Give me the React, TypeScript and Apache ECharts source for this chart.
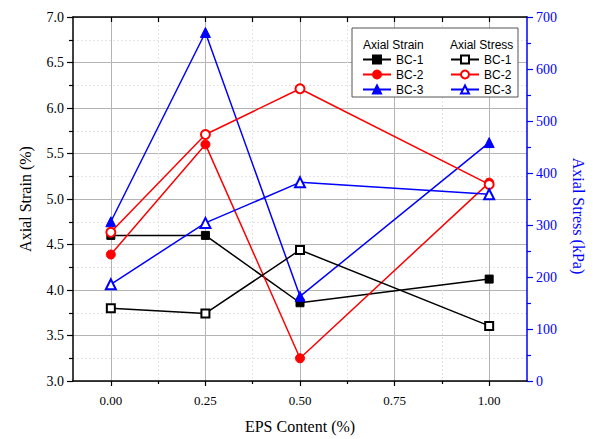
import React, { useEffect, useRef } from "react";
import * as echarts from "echarts";

// EPS content (%) of each mix
const epsContent = [0, 0.25, 0.5, 1.0];

// Axial strain (%) at failure
const strainBC1 = [4.6, 4.6, 3.86, 4.12];
const strainBC2 = [4.39, 5.6, 3.25, 5.18];
const strainBC3 = [4.75, 6.83, 3.93, 5.62];

// Axial stress (kPa) at failure
const stressBC1 = [140, 130, 252, 106];
const stressBC2 = [286, 474, 562, 378];
const stressBC3 = [186, 304, 382, 359];

const xMajorTicks = [0, 0.25, 0.5, 0.75, 1.0];
const xMinorTicks = [0.125, 0.375, 0.625, 0.875];
const xAllTicks = [0, 0.125, 0.25, 0.375, 0.5, 0.625, 0.75, 0.875, 1.0];

const SERIF = "Liberation Serif";
const SANS = "Liberation Sans";

const pairs = (ys: number[]) => epsContent.map((x, i) => [x, ys[i]]);

export default function App() {
  const ref = useRef<HTMLDivElement>(null);

  useEffect(() => {
    if (!ref.current) return;
    const chart = echarts.init(ref.current, null, { renderer: "svg" });

    const line = (
      name: string,
      data: number[],
      color: string,
      symbol: string,
      size: number,
      yAxisIndex: number
    ) => ({
      name,
      type: "line",
      xAxisIndex: 0,
      yAxisIndex,
      data: pairs(data),
      symbol,
      symbolSize: size,
      showAllSymbol: true,
      lineStyle: { color, width: 1.5 },
      itemStyle: { color, borderColor: color, borderWidth: 1 },
      emphasis: { disabled: true },
      z: yAxisIndex === 0 ? 2 : 3,
    });

    const legendBase = {
      orient: "vertical",
      top: 52,
      padding: 0,
      itemWidth: 28,
      itemHeight: 10,
      itemGap: 0,
      selectedMode: false,
      textStyle: { fontFamily: SANS, fontSize: 12, color: "#000", lineHeight: 15 },
      formatter: (n: string) => n.split(" ")[0],
      z: 6,
    };

    chart.setOption({
      animation: false,
      backgroundColor: "#fff",
      grid: { left: 73, right: 68, top: 17, bottom: 57 },
      legend: [
        { ...legendBase, left: 362, data: ["BC-1 Strain", "BC-2 Strain", "BC-3 Strain"] },
        { ...legendBase, left: 450, data: ["BC-1 Stress", "BC-2 Stress", "BC-3 Stress"] },
      ],
      graphic: [
        {
          type: "rect",
          shape: { x: 352, y: 28, width: 166, height: 69 },
          style: { fill: "#fff", stroke: "#555", lineWidth: 1 },
          z: 5,
        },
        {
          type: "text",
          x: 363,
          y: 45,
          style: { text: "Axial Strain", font: `12px "${SANS}"`, fill: "#000", verticalAlign: "middle" },
          z: 6,
        },
        {
          type: "text",
          x: 450,
          y: 45,
          style: { text: "Axial Stress", font: `12px "${SANS}"`, fill: "#000", verticalAlign: "middle" },
          z: 6,
        },
      ],
      xAxis: [
        {
          type: "value",
          position: "bottom",
          min: -0.1,
          max: 1.1,
          name: "EPS Content (%)",
          nameLocation: "middle",
          nameGap: 37,
          nameTextStyle: { fontFamily: SERIF, fontSize: 16, color: "#000" },
          axisLine: { onZero: false, lineStyle: { color: "#000", width: 1.5 } },
          axisTick: { customValues: xMajorTicks, length: 5, lineStyle: { color: "#000", width: 1.2 } },
          axisLabel: {
            customValues: xMajorTicks,
            fontFamily: SERIF,
            fontSize: 13,
            color: "#000",
            margin: 13,
            formatter: (v: number) => v.toFixed(2),
          },
          splitLine: { show: true, lineStyle: { color: "#b4b4b4", width: 1 } },
        },
        {
          type: "value",
          position: "bottom",
          min: -0.1,
          max: 1.1,
          axisLine: { show: false, onZero: false },
          axisTick: { customValues: xMinorTicks, length: 3, lineStyle: { color: "#000", width: 1.2 } },
          axisLabel: { show: false },
          splitLine: { show: true, lineStyle: { color: "#e4e4e4", width: 1, type: [2, 2] } },
        },
        {
          type: "value",
          position: "top",
          min: -0.1,
          max: 1.1,
          axisLine: { onZero: false, lineStyle: { color: "#000", width: 1.5 } },
          axisTick: { inside: true, customValues: xAllTicks, length: 5, lineStyle: { color: "#000", width: 1.2 } },
          axisLabel: { show: false },
          splitLine: { show: false },
        },
      ],
      yAxis: [
        {
          type: "value",
          position: "left",
          min: 3,
          max: 7,
          interval: 0.5,
          name: "Axial Strain (%)",
          nameLocation: "middle",
          nameGap: 40,
          nameTextStyle: { fontFamily: SERIF, fontSize: 16, color: "#000" },
          axisLine: { show: true, onZero: false, lineStyle: { color: "#000", width: 1.5 } },
          axisTick: { show: true, length: 6, lineStyle: { color: "#000", width: 1.2 } },
          minorTick: { show: true, splitNumber: 2, length: 4, lineStyle: { color: "#000", width: 1.2 } },
          axisLabel: {
            fontFamily: SERIF,
            fontSize: 14,
            color: "#000",
            margin: 9,
            formatter: (v: number) => v.toFixed(1),
          },
          splitLine: { show: true, lineStyle: { color: "#b4b4b4", width: 1 } },
          minorSplitLine: { show: true, lineStyle: { color: "#e4e4e4", width: 1, type: [2, 2] } },
        },
        {
          type: "value",
          position: "right",
          min: 0,
          max: 700,
          interval: 100,
          name: "Axial Stress (kPa)",
          nameLocation: "middle",
          nameGap: 43,
          nameRotate: -90,
          nameTextStyle: { fontFamily: SERIF, fontSize: 16, color: "#0000ff", padding: [0, 0, 0, 34] },
          axisLine: { show: true, onZero: false, lineStyle: { color: "#0000ff", width: 1.5 } },
          axisTick: { show: true, length: 6, lineStyle: { color: "#0000ff", width: 1.2 } },
          minorTick: { show: true, splitNumber: 2, length: 4, lineStyle: { color: "#0000ff", width: 1.2 } },
          axisLabel: { fontFamily: SERIF, fontSize: 14, color: "#0000ff", margin: 9 },
          splitLine: { show: false },
        },
      ],
      series: [
        line("BC-1 Strain", strainBC1, "#000000", "rect", 8, 0),
        line("BC-2 Strain", strainBC2, "#ff0000", "circle", 9, 0),
        line("BC-3 Strain", strainBC3, "#0000ff", "triangle", 10, 0),
        line("BC-1 Stress", stressBC1, "#000000", "emptyRect", 8, 1),
        line("BC-2 Stress", stressBC2, "#ff0000", "emptyCircle", 9, 1),
        line("BC-3 Stress", stressBC3, "#0000ff", "emptyTriangle", 10, 1),
      ],
    });

    return () => chart.dispose();
  }, []);

  return <div ref={ref} style={{ width: 595, height: 439, position: "absolute", left: 0, top: 0 }} />;
}
